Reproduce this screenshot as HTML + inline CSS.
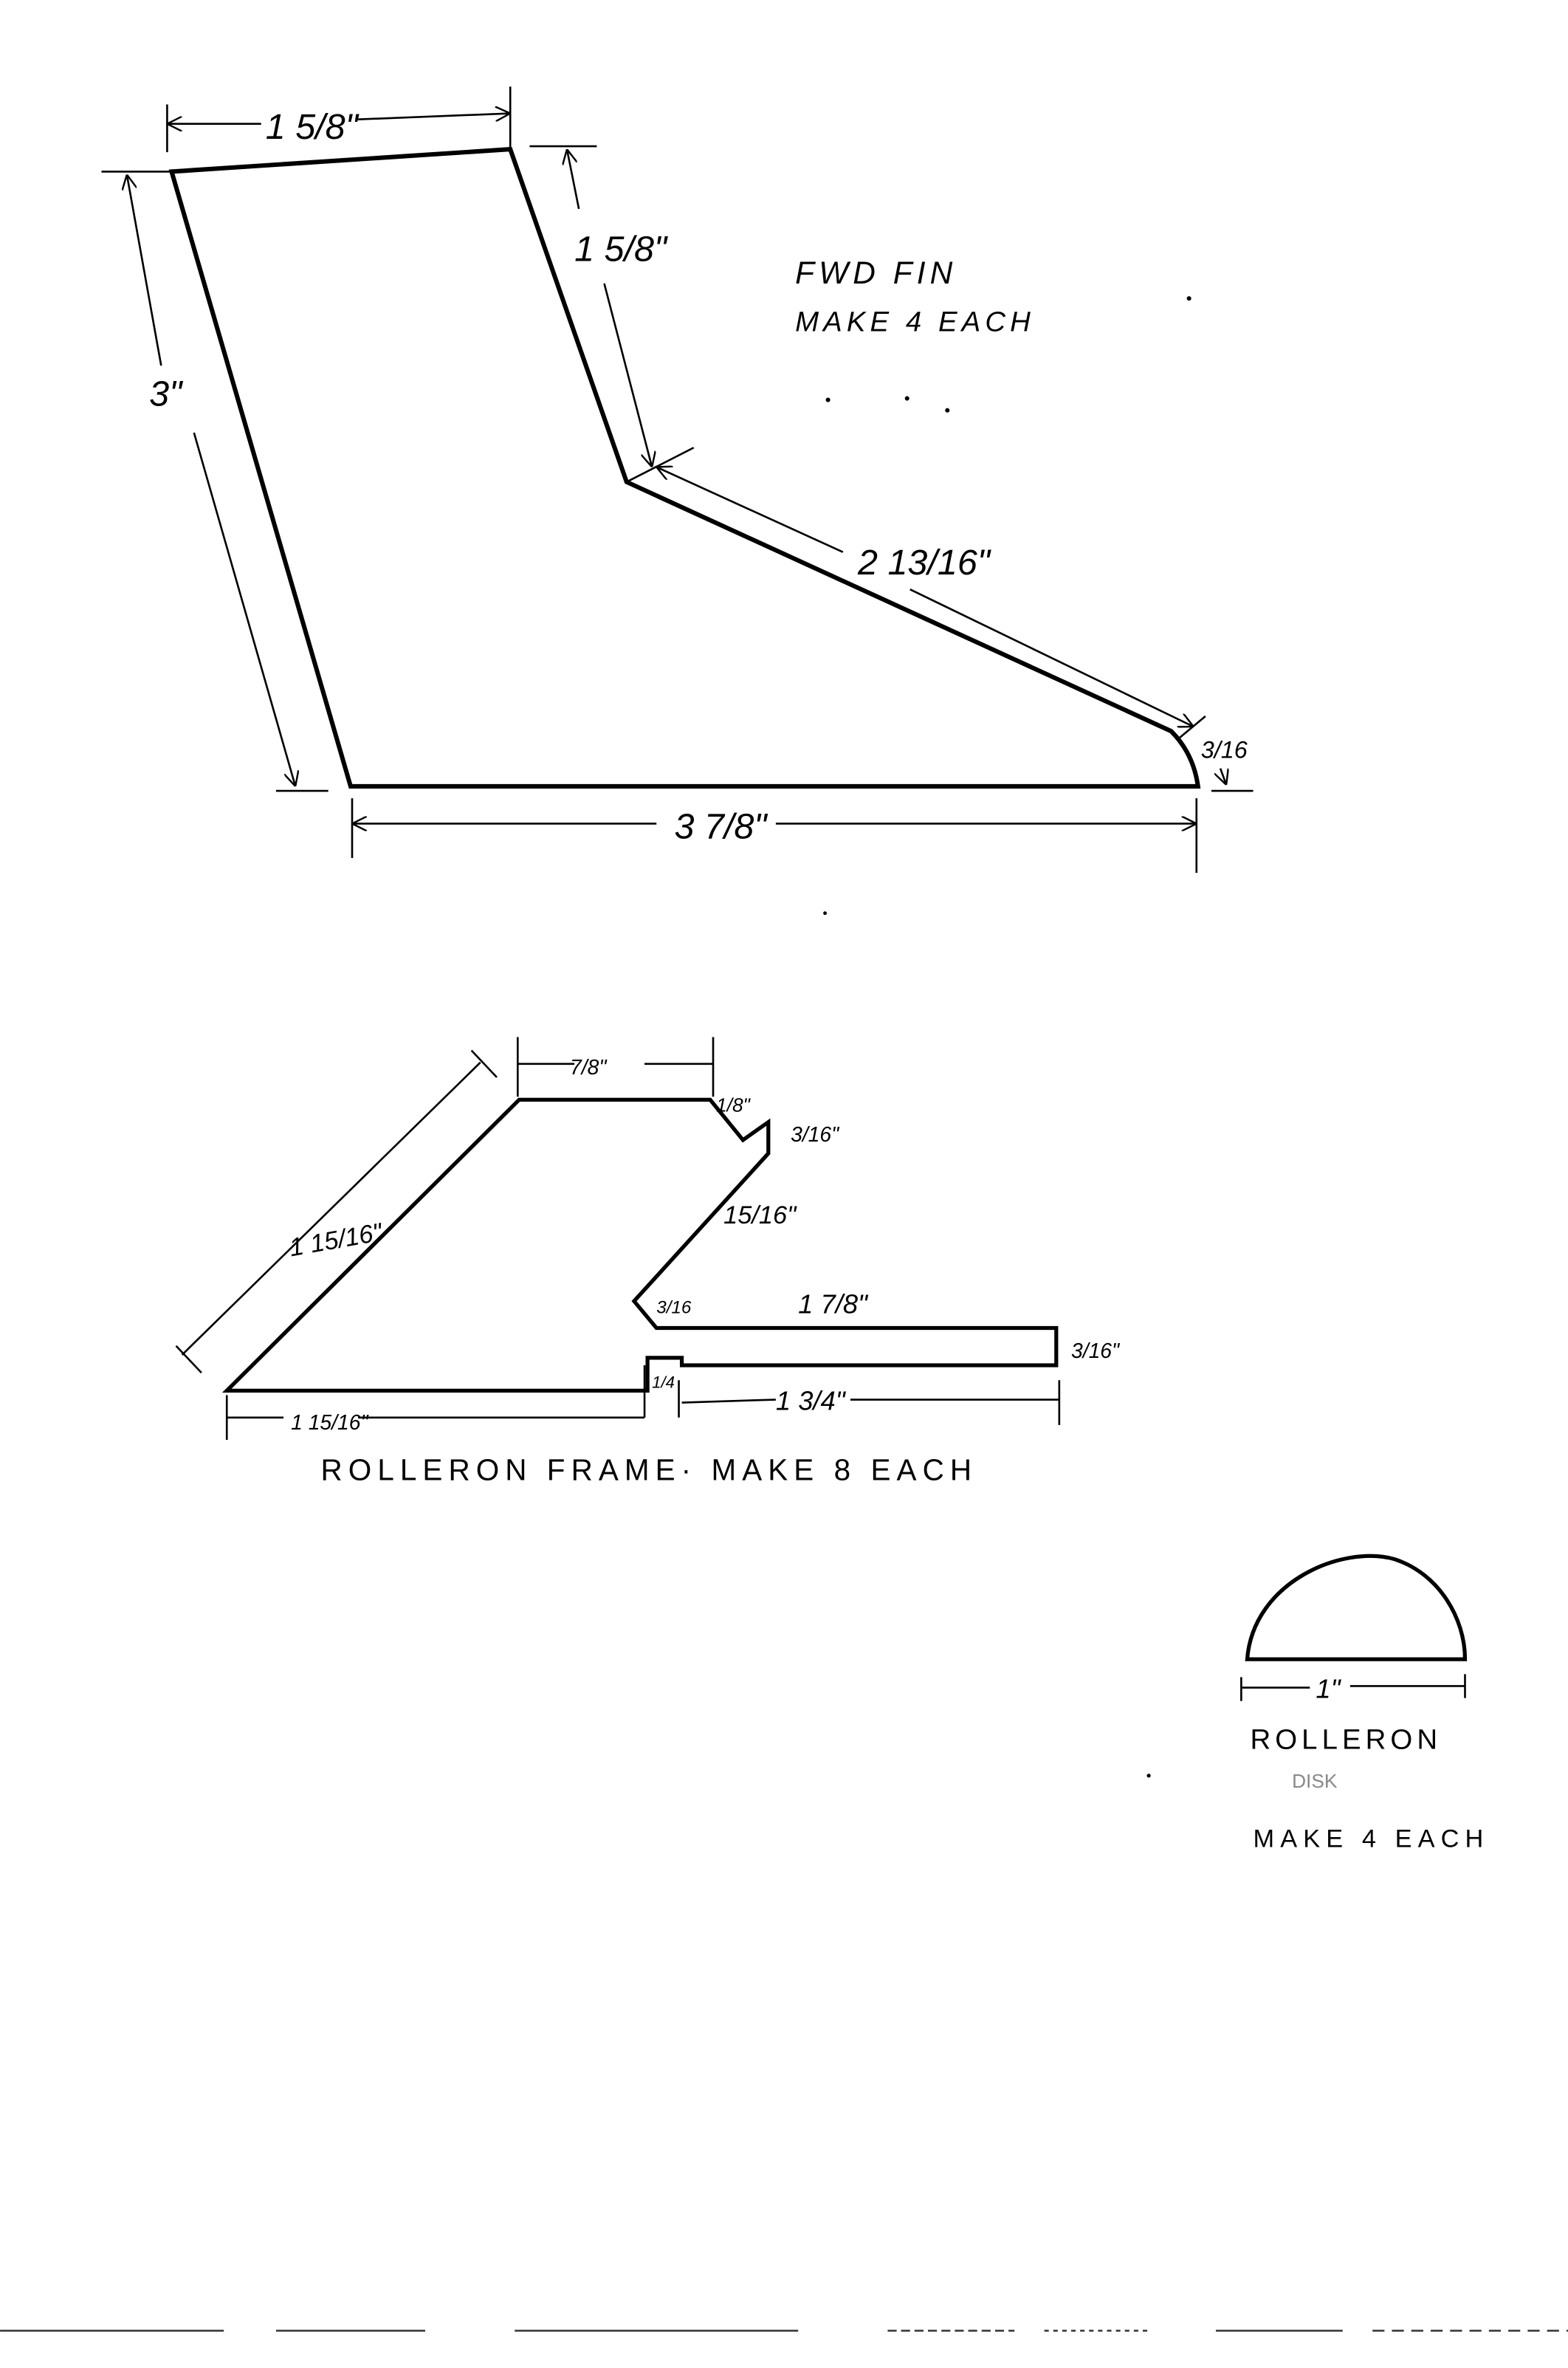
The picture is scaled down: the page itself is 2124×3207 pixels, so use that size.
<!DOCTYPE html>
<html><head><meta charset="utf-8"><style>html,body{margin:0;padding:0;background:#fff}svg{display:block}</style></head>
<body>
<svg width="2124" height="3207" viewBox="0 0 1051 1587" xmlns="http://www.w3.org/2000/svg" font-family="Liberation Sans, sans-serif" fill="none" stroke="#000">
<defs>
<marker id="a" viewBox="0 0 10 10" refX="10" refY="5" markerWidth="10" markerHeight="10" orient="auto-start-reverse" markerUnits="userSpaceOnUse"><path d="M0,0 L10,5 L0,10" stroke="#000" stroke-width="1.2" fill="none"/></marker>
</defs>
<!-- FWD FIN -->
<path d="M115,115 L342,100 L420,323 L785,490 Q800,505 803,527 L235,527 Z" stroke-width="3"/>
<g stroke-width="1.3">
<line x1="112" y1="70" x2="112" y2="102"/><line x1="342" y1="58" x2="342" y2="100"/>
<line x1="112" y1="83" x2="175" y2="83" marker-start="url(#a)"/><line x1="240" y1="80" x2="342" y2="76" marker-end="url(#a)"/>
<line x1="68" y1="115" x2="115" y2="115"/><line x1="185" y1="530" x2="220" y2="530"/>
<line x1="85" y1="117" x2="108" y2="245" marker-start="url(#a)"/><line x1="130" y1="290" x2="198" y2="527" marker-end="url(#a)"/>
<line x1="355" y1="98" x2="400" y2="98"/><line x1="420" y1="323" x2="465" y2="300"/>
<line x1="380" y1="100" x2="388" y2="140" marker-start="url(#a)"/><line x1="405" y1="190" x2="437" y2="313" marker-end="url(#a)"/>
<line x1="440" y1="313" x2="565" y2="370" marker-start="url(#a)"/><line x1="610" y1="395" x2="800" y2="487" marker-end="url(#a)"/>
<line x1="790" y1="495" x2="808" y2="480"/><line x1="812" y1="530" x2="840" y2="530"/>
<line x1="818" y1="515" x2="822" y2="526" marker-end="url(#a)"/>
<line x1="236" y1="535" x2="236" y2="575"/><line x1="802" y1="535" x2="802" y2="585"/>
<line x1="236" y1="552" x2="440" y2="552" marker-start="url(#a)"/><line x1="520" y1="552" x2="802" y2="552" marker-end="url(#a)"/>
</g>
<g fill="#000" stroke="none" font-size="24" font-style="italic">
<text x="178" y="93">1 5/8"</text>
<text x="100" y="272">3"</text>
<text x="385" y="175">1 5/8"</text>
<text x="575" y="385">2 13/16"</text>
<text x="805" y="508" font-size="16">3/16</text>
<text x="452" y="562">3 7/8"</text>
<text x="533" y="190" font-size="21" letter-spacing="3">FWD  FIN</text>
<text x="533" y="222" font-size="19" letter-spacing="3">MAKE 4 EACH</text>
</g>
<g fill="#000" stroke="none"><circle cx="555" cy="268" r="1.5"/><circle cx="608" cy="267" r="1.5"/><circle cx="635" cy="275" r="1.5"/><circle cx="797" cy="200" r="1.5"/><circle cx="553" cy="612" r="1.2"/></g>
<!-- ROLLERON FRAME -->
<path d="M152,932 L348,737 L476,737 L498,764 L515,752 L515,773 L425,872 L440,890 L708,890 L708,915 L457,915 L457,910 L434,910 L434,932 Z" stroke-width="2.6"/>
<g stroke-width="1.3">
<line x1="122" y1="908" x2="322" y2="712"/><line x1="118" y1="902" x2="135" y2="920"/><line x1="316" y1="704" x2="333" y2="722"/>
<line x1="347" y1="695" x2="347" y2="735"/><line x1="478" y1="695" x2="478" y2="735"/>
<line x1="347" y1="713" x2="385" y2="713"/><line x1="432" y1="713" x2="478" y2="713"/>
<line x1="152" y1="935" x2="152" y2="965"/><line x1="152" y1="950" x2="190" y2="950"/><line x1="240" y1="950" x2="432" y2="950"/>
<line x1="457" y1="940" x2="520" y2="938"/><line x1="570" y1="938" x2="710" y2="938"/><line x1="710" y1="925" x2="710" y2="955"/>
<line x1="432" y1="915" x2="432" y2="950"/><line x1="455" y1="925" x2="455" y2="950"/>
</g>
<g fill="#000" stroke="none" font-style="italic" font-size="17">
<text x="195" y="842" transform="rotate(-10 195 842)">1 15/16"</text>
<text x="382" y="720" font-size="14">7/8"</text>
<text x="480" y="745" font-size="13">1/8"</text>
<text x="530" y="765" font-size="14">3/16"</text>
<text x="485" y="820" font-size="17">15/16"</text>
<text x="440" y="880" font-size="12">3/16</text>
<text x="535" y="880" font-size="18">1 7/8"</text>
<text x="718" y="910" font-size="14">3/16"</text>
<text x="195" y="958" font-size="14">1 15/16"</text>
<text x="437" y="930" font-size="11">1/4</text>
<text x="520" y="945" font-size="18">1 3/4"</text>
<text x="215" y="992" font-size="20" font-style="normal" letter-spacing="4">ROLLERON FRAME· MAKE 8 EACH</text>
</g>
<!-- ROLLERON DISK -->
<path d="M836,1112 C840,1060 900,1035 935,1045 C965,1055 982,1085 982,1112 Z" stroke-width="2.6"/>
<g stroke-width="1.3"><line x1="832" y1="1124" x2="832" y2="1140"/><line x1="982" y1="1122" x2="982" y2="1138"/>
<line x1="832" y1="1131" x2="878" y2="1131"/><line x1="905" y1="1130" x2="982" y2="1130"/></g>
<g fill="#000" stroke="none" font-style="italic">
<text x="882" y="1138" font-size="18">1"</text>
<text x="838" y="1172" font-size="19" font-style="normal" letter-spacing="3">ROLLERON</text>
<text x="866" y="1198" font-size="13" fill="#888" font-style="normal">DISK</text>
<text x="840" y="1238" font-size="17" font-style="normal" letter-spacing="4">MAKE 4 EACH</text>
<circle cx="770" cy="1190" r="1.3"/>
</g>
<!-- bottom scan lines -->
<g stroke-width="1.2" stroke="#333">
<line x1="0" y1="1562" x2="150" y2="1562"/><line x1="185" y1="1562" x2="285" y2="1562"/><line x1="345" y1="1562" x2="535" y2="1562"/>
<line x1="595" y1="1562" x2="680" y2="1562" stroke-dasharray="6 3"/><line x1="700" y1="1562" x2="770" y2="1562" stroke-dasharray="3 3"/><line x1="815" y1="1562" x2="900" y2="1562"/><line x1="920" y1="1562" x2="1051" y2="1562" stroke-dasharray="8 5"/>
</g>
</svg>
</body></html>
